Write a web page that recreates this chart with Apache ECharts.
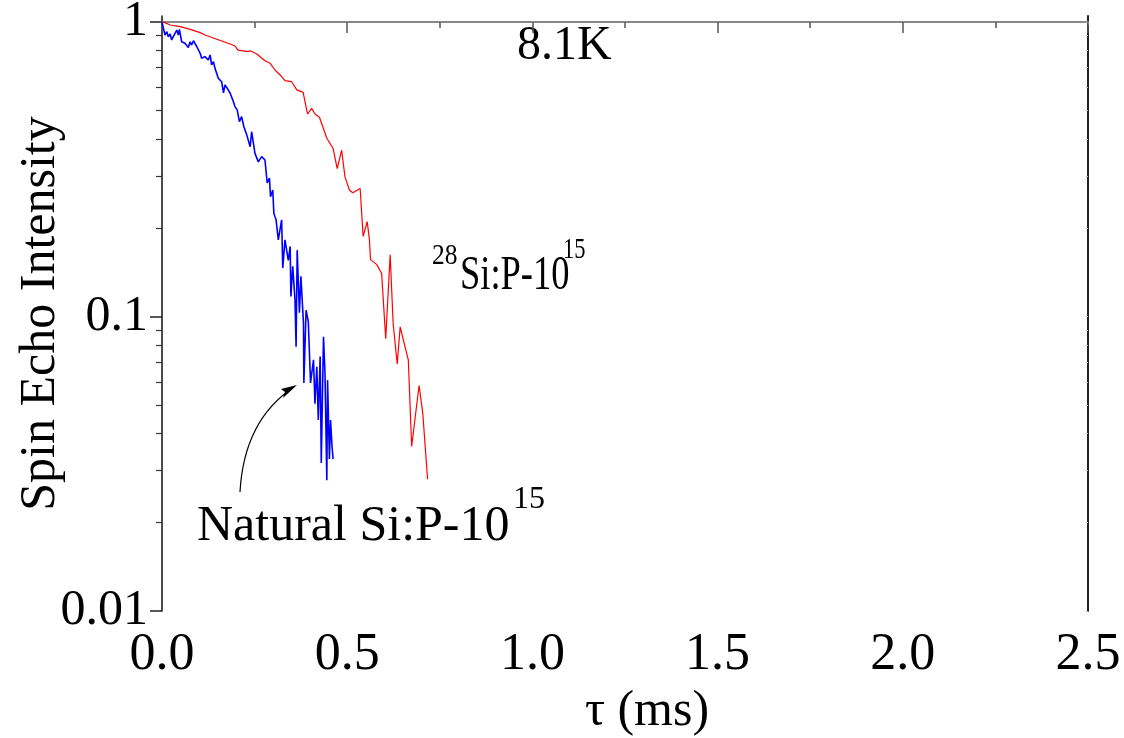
<!DOCTYPE html>
<html>
<head>
<meta charset="utf-8">
<script src="https://cdn.jsdelivr.net/npm/echarts@6/dist/echarts.min.js"></script>
<style>html,body{margin:0;padding:0;background:#fff}#c{width:1124px;height:738px}</style>
</head>
<body>
<div id="c"></div>
<script>
// ---- data ----
const tauRed = [0, 0.008, 0.022, 0.049, 0.076, 0.103, 0.116, 0.148, 0.184, 0.197, 0.205, 0.232, 0.238, 0.256, 0.278, 0.292, 0.305, 0.319, 0.332, 0.350, 0.364, 0.381, 0.393, 0.404, 0.413, 0.425, 0.445, 0.462, 0.473, 0.485, 0.494, 0.506, 0.515, 0.535, 0.543, 0.554, 0.560, 0.563, 0.580, 0.593, 0.604, 0.616, 0.624, 0.635, 0.643, 0.656, 0.665, 0.674, 0.694, 0.704, 0.717];
const intRed = [1.0, 0.995, 0.977, 0.964, 0.944, 0.920, 0.903, 0.874, 0.842, 0.829, 0.803, 0.793, 0.799, 0.779, 0.739, 0.724, 0.687, 0.661, 0.632, 0.627, 0.588, 0.577, 0.487, 0.509, 0.487, 0.475, 0.403, 0.372, 0.318, 0.367, 0.298, 0.269, 0.263, 0.272, 0.187, 0.210, 0.182, 0.156, 0.150, 0.140, 0.084, 0.162, 0.0949, 0.069, 0.0922, 0.079, 0.0712, 0.0362, 0.0583, 0.047, 0.028];

const tauBlue = [0, 0.004, 0.008, 0.013, 0.017, 0.022, 0.026, 0.031, 0.035, 0.040, 0.044, 0.047, 0.053, 0.062, 0.071, 0.076, 0.080, 0.085, 0.094, 0.103, 0.107, 0.116, 0.125, 0.130, 0.134, 0.139, 0.143, 0.152, 0.161, 0.166, 0.170, 0.176, 0.184, 0.191, 0.197, 0.203, 0.209, 0.215, 0.221, 0.229, 0.238, 0.242, 0.251, 0.260, 0.269, 0.278, 0.284, 0.290, 0.293, 0.299, 0.302, 0.305, 0.308, 0.314, 0.323, 0.326, 0.332, 0.341, 0.346, 0.348, 0.353, 0.359, 0.362, 0.365, 0.371, 0.375, 0.382, 0.383, 0.389, 0.395, 0.401, 0.409, 0.413, 0.418, 0.422, 0.427, 0.430, 0.436, 0.440, 0.445, 0.447, 0.452, 0.455, 0.459, 0.462];
const intBlue = [1.0, 1.0, 0.903, 0.927, 0.891, 0.910, 0.869, 0.857, 0.915, 0.939, 0.903, 0.944, 0.857, 0.847, 0.820, 0.857, 0.835, 0.864, 0.824, 0.783, 0.753, 0.763, 0.743, 0.773, 0.715, 0.733, 0.696, 0.644, 0.627, 0.575, 0.611, 0.596, 0.573, 0.544, 0.516, 0.503, 0.459, 0.477, 0.441, 0.413, 0.377, 0.424, 0.358, 0.335, 0.349, 0.340, 0.284, 0.295, 0.255, 0.269, 0.224, 0.218, 0.213, 0.182, 0.213, 0.146, 0.182, 0.155, 0.173, 0.117, 0.148, 0.114, 0.0789, 0.168, 0.103, 0.137, 0.0946, 0.0595, 0.105, 0.0961, 0.0595, 0.0713, 0.0506, 0.0675, 0.0445, 0.0731, 0.0318, 0.0853, 0.0643, 0.0278, 0.0608, 0.0328, 0.0445, 0.0362, 0.0328];

const yMajorTicks = [0.01, 0.1, 1];
const yMajorLabels = ['0.01', '0.1', '1'];
const yMinorTicks = [0.02, 0.03, 0.04, 0.05, 0.06, 0.07, 0.08, 0.09, 0.2, 0.3, 0.4, 0.5, 0.6, 0.7, 0.8, 0.9];
const yMin = 0.01, yMax = 1.048;
const xMin = 0, xMax = 2.5, xStep = 0.5;

const xTitle = 'τ (ms)';
const yTitle = 'Spin Echo Intensity';
const tempLabel = '8.1K';

// ---- build ----
const L = Math.log10;
const toPairs = (xs, ys) => xs.map((x, i) => [x, L(ys[i])]);
const FONT = '"Liberation Serif", "Times New Roman", serif';
const majorLog = yMajorTicks.map(L);
const minorLog = yMinorTicks.map(L);
const labelMap = {};
majorLog.forEach((v, i) => { labelMap[v.toFixed(4)] = yMajorLabels[i]; });

const chart = echarts.init(document.getElementById('c'), null, {renderer: 'canvas'});

const yBase = {
  type: 'value', min: L(yMin), max: L(yMax), interval: 1,
  splitLine: {show: false}
};

chart.setOption({
  animation: false,
  backgroundColor: '#ffffff',
  grid: {left: 162, right: 36, top: 16, bottom: 127, containLabel: false, outerBoundsMode: 'none'},
  xAxis: [
    {
      type: 'value', position: 'bottom', min: xMin, max: xMax, interval: xStep,
      name: xTitle, nameLocation: 'middle', nameGap: 76, nameMoveOverlap: false,
      nameTextStyle: {fontFamily: FONT, fontSize: 50, color: '#000', padding: [0, 0, 0, 44]},
      axisLine: {lineStyle: {color: '#555', width: 1.5}},
      axisTick: {show: true, inside: false, length: 11, lineStyle: {color: '#555', width: 1.5}},
      minorTick: {show: true, splitNumber: 2, length: 6, lineStyle: {color: '#555', width: 1.5}},
      axisLabel: {fontFamily: FONT, fontSize: 52, color: '#000', margin: 18,
        formatter: v => v.toFixed(1)},
      splitLine: {show: false}
    },
    {
      type: 'value', position: 'top', min: xMin, max: xMax, interval: xStep,
      axisLine: {lineStyle: {color: '#888', width: 2}},
      axisTick: {show: true, inside: true, length: 3, lineStyle: {color: '#777', width: 1}},
      minorTick: {show: true, splitNumber: 2, length: 3, lineStyle: {color: '#777', width: 1}},
      axisLabel: {show: false},
      splitLine: {show: false}
    }
  ],
  yAxis: [
    Object.assign({}, yBase, {
      position: 'left',
      name: yTitle, nameLocation: 'middle', nameGap: 96, nameRotate: 90, nameMoveOverlap: false,
      nameTextStyle: {fontFamily: FONT, fontSize: 50, color: '#000'},
      axisLine: {lineStyle: {color: '#111', width: 1.5}},
      axisTick: {show: true, inside: false, length: 12, customValues: majorLog,
        lineStyle: {color: '#222', width: 1.5}},
      axisLabel: {fontFamily: FONT, fontSize: 50, color: '#000', margin: 14,
        customValues: majorLog,
        formatter: v => labelMap[Number(v).toFixed(4)] || ''}
    }),
    Object.assign({}, yBase, {
      position: 'left',
      axisLine: {show: false},
      axisTick: {show: true, inside: false, length: 6, customValues: minorLog,
        lineStyle: {color: '#333', width: 1.2}},
      axisLabel: {show: false}
    }),
    Object.assign({}, yBase, {
      position: 'right',
      axisLine: {lineStyle: {color: '#222', width: 2}},
      axisTick: {show: true, inside: true, length: 2, customValues: majorLog.concat(minorLog),
        lineStyle: {color: '#bbb', width: 1}},
      axisLabel: {show: false}
    })
  ],
  series: [
    {
      type: 'line', name: '28Si:P', xAxisIndex: 0, yAxisIndex: 0,
      data: toPairs(tauRed, intRed), showSymbol: false, symbol: 'none',
      lineStyle: {color: '#ff0000', width: 1.2}
    },
    {
      type: 'line', name: 'Natural Si:P', xAxisIndex: 0, yAxisIndex: 0,
      data: toPairs(tauBlue, intBlue), showSymbol: false, symbol: 'none',
      lineStyle: {color: '#0000ff', width: 1.6}
    }
  ],
  graphic: [
    {type: 'text', left: 517, top: 22, style: {text: tempLabel, font: '48px ' + FONT, fill: '#000'}},
    // 28Si label
    {type: 'text', x: 432, y: 256, scaleX: 0.85, style: {text: '28', font: '30px ' + FONT, fill: '#000', verticalAlign: 'middle'}},
    {type: 'text', x: 460, y: 276, scaleX: 0.76, style: {text: 'Si:P-10', font: '48px ' + FONT, fill: '#000', verticalAlign: 'middle'}},
    {type: 'text', x: 563, y: 250, scaleX: 0.75, style: {text: '15', font: '30px ' + FONT, fill: '#000', verticalAlign: 'middle'}},
    // Natural label
    {type: 'text', x: 197, y: 527, style: {text: 'Natural Si:P-10', font: '50px ' + FONT, fill: '#000', verticalAlign: 'middle'}},
    {type: 'text', x: 513, y: 500, style: {text: '15', font: '32px ' + FONT, fill: '#000', verticalAlign: 'middle'}},
    // arrow
    {type: 'bezierCurve', shape: {x1: 240, y1: 492, cpx1: 244, cpy1: 420, x2: 294, y2: 387},
      style: {stroke: '#000', lineWidth: 1.2, fill: null}},
    {type: 'polygon', shape: {points: [[297, 385], [281, 389], [285, 392], [283, 398]]},
      style: {fill: '#000'}}
  ]
});
</script>
</body>
</html>
